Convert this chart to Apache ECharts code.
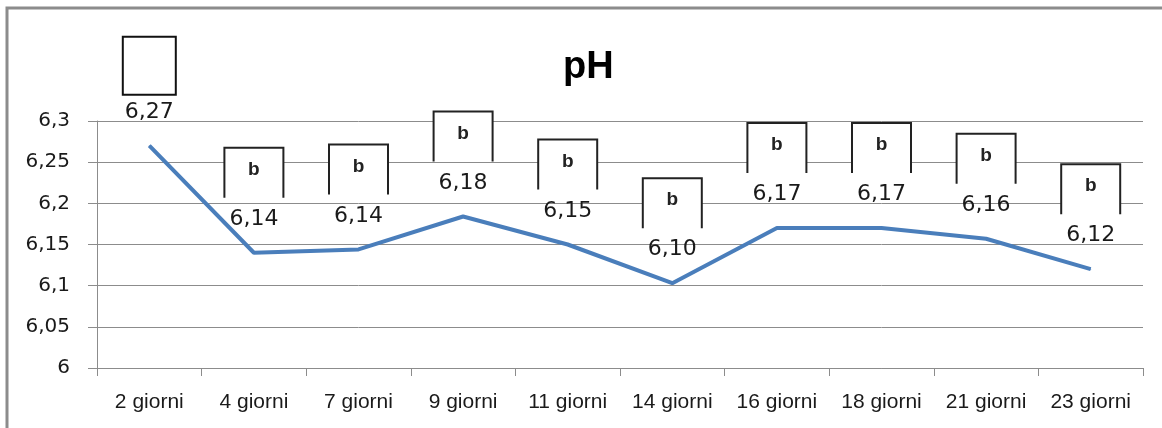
<!DOCTYPE html>
<html><head><meta charset="utf-8">
<script src="https://cdn.jsdelivr.net/npm/echarts@6/dist/echarts.min.js"></script>
<style>html,body{margin:0;padding:0;background:#fff}#c{width:1162px;height:428px}</style>
</head><body><div id="c"></div>
<script>
// ---- data ----
const categories = ['2 giorni','4 giorni','7 giorni','9 giorni','11 giorni','14 giorni','16 giorni','18 giorni','21 giorni','23 giorni'];
const phValues = [6.27, 6.14, 6.144, 6.184, 6.15, 6.103, 6.17, 6.17, 6.157, 6.12];
const letters = ['', 'b', 'b', 'b', 'b', 'b', 'b', 'b', 'b', 'b'];
const yMin = 6, yMax = 6.3, yStep = 0.05;
const titleText = 'pH';

const FONT = '"Liberation Sans", Arial, sans-serif';
const NUMFONT = '"DejaVu Sans", sans-serif';

const chart = echarts.init(document.getElementById('c'), null, {renderer: 'canvas'});
chart.setOption({
  animation: false,
  backgroundColor: '#fff',
  textStyle: {fontFamily: FONT},
  title: {
    text: titleText, left: 558, top: 44,
    textStyle: {fontFamily: FONT, fontSize: 38, fontWeight: 'bold', color: '#000'}
  },
  graphic: [{
    type: 'rect', z: -10, silent: true,
    shape: {x: 7, y: 8, width: 1170, height: 440},
    style: {fill: null, stroke: '#8c8c8c', lineWidth: 3}
  }],
  grid: {left: 97, right: 19, top: 121, bottom: 60, containLabel: false},
  xAxis: {
    type: 'category', data: categories, boundaryGap: true,
    axisLine: {lineStyle: {color: '#8c8c8c', width: 1}},
    axisTick: {show: true, length: 8, lineStyle: {color: '#8c8c8c'}},
    axisLabel: {margin: 24, fontSize: 21, color: '#1a1a1a', fontFamily: FONT, interval: 0}
  },
  yAxis: {
    type: 'value', min: yMin, max: yMax, interval: yStep,
    axisLine: {show: true, lineStyle: {color: '#8c8c8c', width: 1}},
    axisTick: {show: true, length: 9, lineStyle: {color: '#8c8c8c'}},
    splitLine: {lineStyle: {color: '#8c8c8c', width: 1}},
    axisLabel: {margin: 27, fontSize: 20, color: '#1a1a1a', fontFamily: NUMFONT, formatter: v => String(+v.toFixed(2)).replace('.', ',')}
  },
  series: [
    {
      type: 'line', data: phValues, symbol: 'circle', symbolSize: 1, showSymbol: true,
      itemStyle: {color: '#4a7ebb'},
      lineStyle: {color: '#4a7ebb', width: 4},
      label: {show: true, position: 'top', distance: 22, fontSize: 22, color: '#1a1a1a', fontFamily: NUMFONT,
        formatter: p => p.value.toFixed(2).replace('.', ',')},
      z: 3
    },
    {
      type: 'custom', clip: false, z: 4,
      data: phValues.map((v, i) => [i, v]),
      renderItem: (params, api) => {
        const p = api.coord([api.value(0), api.value(1)]);
        const letter = letters[params.dataIndex];
        const closed = !letter;
        const w = closed ? 53 : 59, h = closed ? 58 : 50, lift = closed ? 51 : 55;
        const x0 = p[0] - w / 2, yb = p[1] - lift, yt = yb - h;
        const children = [{
          type: 'rect', shape: {x: x0, y: yt, width: w, height: h},
          style: {fill: '#fff', stroke: closed ? '#111' : null, lineWidth: 2}
        }];
        if (!closed) {
          children.push({type: 'polyline', shape: {points: [[x0, yb], [x0, yt], [x0 + w, yt], [x0 + w, yb]]},
            style: {fill: null, stroke: '#222', lineWidth: 2}});
          children.push({type: 'text', style: {text: letter, x: p[0], y: yt + h * 0.44, align: 'center', verticalAlign: 'middle',
            font: 'bold 19px ' + FONT, fill: '#222'}});
        }
        return {type: 'group', children};
      }
    }
  ]
});
</script></body></html>
